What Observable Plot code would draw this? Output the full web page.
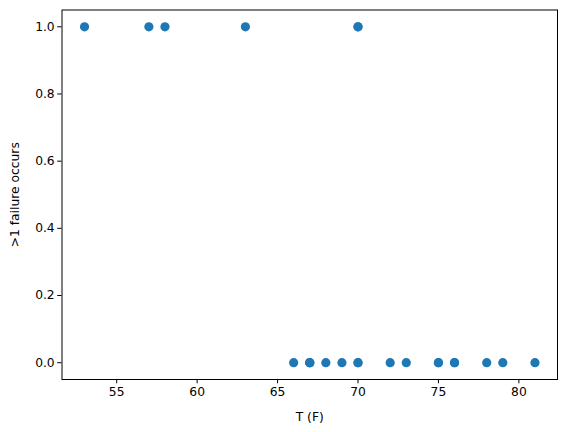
<!DOCTYPE html>
<html>
<head>
<meta charset="utf-8">
<script src="https://cdn.jsdelivr.net/npm/d3@7"></script>
<script src="https://cdn.jsdelivr.net/npm/@observablehq/plot@0.6"></script>
<style>
  html, body { margin: 0; padding: 0; background: #fff; }
</style>
</head>
<body>
<div id="chart"></div>
<script>
const temps =   [66,70,69,68,67,72,73,70,57,63,70,78,67,53,67,75,70,81,76,79,75,76,58];
const failure = [ 0, 1, 0, 0, 0, 0, 0, 0, 1, 1, 1, 0, 0, 1, 0, 0, 0, 0, 0, 0, 0, 0, 1];
const xTicks = [55, 60, 65, 70, 75, 80];
const yTicks = [0, 0.2, 0.4, 0.6, 0.8, 1.0];

const data = temps.map((t, i) => ({t, f: failure[i]}));

const chart = Plot.plot({
  width: 567,
  height: 432,
  marginLeft: 61.5,
  marginRight: 10,
  marginTop: 9.5,
  marginBottom: 53,
  style: {fontFamily: "DejaVu Sans", fontSize: "12.3px", color: "#000", background: "#fff"},
  x: {domain: [51.6, 82.4]},
  y: {domain: [-0.05, 1.05]},
  marks: [
    Plot.frame({stroke: "#000", strokeWidth: 1}),
    Plot.axisX({ticks: xTicks, tickFormat: d3.format("d"), tickSize: 4.3, tickPadding: 3, label: "T (F)", labelAnchor: "center", labelArrow: "none", labelOffset: 41}),
    Plot.axisY({ticks: yTicks, tickFormat: d3.format(".1f"), tickSize: 4.3, tickPadding: 3, label: ">1 failure occurs", labelAnchor: "center", labelArrow: "none", labelOffset: 52}),
    Plot.dot(data, {x: "t", y: "f", r: 4.6, fill: "#1f77b4", stroke: "none"})
  ]
});
document.getElementById("chart").appendChild(chart);
</script>
</body>
</html>
